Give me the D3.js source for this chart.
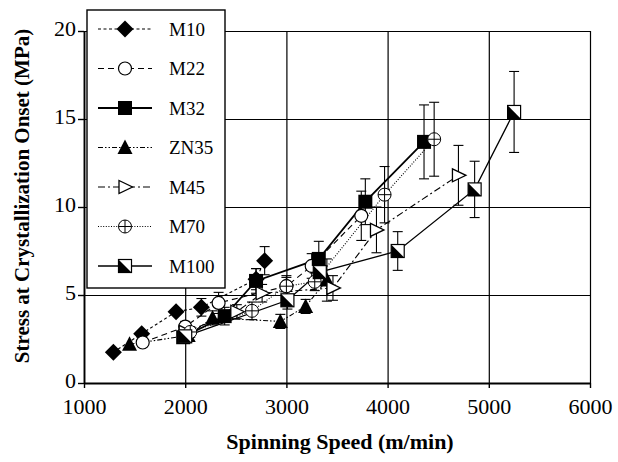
<!DOCTYPE html>
<html>
<head>
<meta charset="utf-8">
<script src="https://cdn.jsdelivr.net/npm/d3@7"></script>
<style>
  body { margin: 0; background: #fff; }
  svg text { font-family: "Liberation Serif", "Times New Roman", serif; fill: #000; }
</style>
</head>
<body>
<div id="chart"></div>
<script>
// Series names as in the legend
const seriesNames = ["M10", "M22", "M32", "ZN35", "M45", "M70", "M100"];

// [spinning speed (m/min), stress (MPa), error (MPa)]
const M10  = [[1290, 1.75, 0], [1570, 2.8, 0], [1910, 4.05, 0], [2160, 4.3, 0.5], [2700, 5.9, 0.6], [2785, 6.95, 0.8]];
const M22  = [[1580, 2.3, 0], [2000, 3.2, 0.3], [2330, 4.55, 0.6], [3000, 5.5, 0.6], [3250, 6.65, 0.7], [3740, 9.5, 1.4]];
const M32  = [[1980, 2.6, 0.3], [2390, 3.8, 0.5], [2700, 5.8, 0.7], [3320, 7.05, 1.0], [3780, 10.3, 1.3], [4360, 13.7, 2.1]];
const ZN35 = [[1450, 2.2, 0], [2030, 2.7, 0.3], [2270, 3.7, 0.4], [2940, 3.5, 0.4], [3190, 4.35, 0.4], [3400, 5.85, 1.2]];
const M45  = [[2000, 2.9, 0.3], [2510, 4.05, 0.4], [2760, 5.1, 0.5], [3460, 5.4, 0.7], [3890, 8.7, 1.3], [4700, 11.8, 1.7]];
const M70  = [[2050, 2.9, 0.3], [2660, 4.1, 0.5], [3000, 5.5, 0.5], [3280, 5.75, 0.5], [3970, 10.7, 1.6], [4460, 13.85, 2.1]];
const M100 = [[2000, 2.65, 0.3], [3010, 4.7, 0.5], [3330, 6.3, 0.6], [4100, 7.5, 1.1], [4860, 11.0, 1.6], [5250, 15.4, 2.3]];

const xTicks = [1000, 2000, 3000, 4000, 5000, 6000];
const yTicks = [0, 5, 10, 15, 20];

(function() {
  const width = 618;
  const height = 462;
  const plot = { left: 84, right: 590, top: 31, bottom: 383 };

  const svg = d3.select("#chart")
    .append("svg")
    .attr("width", width)
    .attr("height", height);

  const x = d3.scaleLinear().domain([1000, 6000]).range([plot.left, plot.right]);
  const y = d3.scaleLinear().domain([0, 20]).range([plot.bottom, plot.top]);

  // Grid
  svg.append("g")
    .attr("transform", `translate(0,${plot.bottom})`)
    .call(d3.axisBottom(x).tickValues(xTicks).tickSize(-(plot.bottom - plot.top)).tickFormat(""))
    .call(g => g.select(".domain").remove())
    .call(g => g.selectAll("line").attr("stroke", "#000").attr("stroke-width", 1.2));

  svg.append("g")
    .attr("transform", `translate(${plot.left},0)`)
    .call(d3.axisLeft(y).tickValues(yTicks).tickSize(-(plot.right - plot.left)).tickFormat(""))
    .call(g => g.select(".domain").remove())
    .call(g => g.selectAll("line").attr("stroke", "#000").attr("stroke-width", 1.2));

  // Axes
  const xAxis = svg.append("g")
    .attr("transform", `translate(0,${plot.bottom})`)
    .call(d3.axisBottom(x).tickValues(xTicks).tickFormat(d3.format("d"))
      .tickSize(5).tickSizeOuter(0).tickPadding(10));
  const yAxis = svg.append("g")
    .attr("transform", `translate(${plot.left},0)`)
    .call(d3.axisLeft(y).tickValues(yTicks).tickSize(6).tickSizeOuter(0).tickPadding(2));

  [xAxis, yAxis].forEach(a => {
    a.select(".domain").attr("stroke", "#000").attr("stroke-width", 1.8);
    a.selectAll(".tick line").attr("stroke", "#000").attr("stroke-width", 1.4);
    a.selectAll("text")
      .attr("font-size", "22px")
      .attr("fill", "#000");
  });
  yAxis.selectAll("text").attr("dy", "0.22em");

  // Axis titles
  svg.append("text")
    .attr("x", 340)
    .attr("y", 449)
    .attr("text-anchor", "middle")
    .attr("font-size", "22px")
    .attr("font-weight", "bold")
    .text("Spinning Speed (m/min)");

  svg.append("text")
    .attr("transform", "rotate(-90)")
    .attr("x", -196)
    .attr("y", 29)
    .attr("text-anchor", "middle")
    .attr("font-size", "21px")
    .attr("font-weight", "bold")
    .text("Stress at Crystallization Onset (MPa)");

  const styles = {
    M10:  { data: M10,  dash: "3,2.5",       width: 1.1, marker: "diamond" },
    M22:  { data: M22,  dash: "6,4",         width: 1.1, marker: "circle" },
    M32:  { data: M32,  dash: null,          width: 1.8, marker: "square" },
    ZN35: { data: ZN35, dash: "5,2,1.5,2,1.5,2", width: 1.1, marker: "triangle" },
    M45:  { data: M45,  dash: "7,3,2,3",     width: 1.1, marker: "rtriangle" },
    M70:  { data: M70,  dash: "1,1.6",       width: 1.1, marker: "crosscircle" },
    M100: { data: M100, dash: null,          width: 1.3, marker: "halfsquare" }
  };

  function drawMarker(g, type, cx, cy) {
    const m = g.append("g").attr("transform", `translate(${cx},${cy})`);
    if (type === "diamond") {
      m.append("path").attr("d", "M0,-8.5L8.5,0L0,8.5L-8.5,0Z").attr("fill", "#000");
    } else if (type === "circle") {
      m.append("circle").attr("r", 6.5).attr("fill", "#fff").attr("stroke", "#000").attr("stroke-width", 1.2);
    } else if (type === "square") {
      m.append("rect").attr("x", -7).attr("y", -7).attr("width", 14).attr("height", 14).attr("fill", "#000");
    } else if (type === "triangle") {
      m.append("path").attr("d", "M0,-8L7.5,6.5L-7.5,6.5Z").attr("fill", "#000");
    } else if (type === "rtriangle") {
      m.append("path").attr("d", "M-6,-6.5L7.5,0L-6,6.5Z").attr("fill", "#fff").attr("stroke", "#000").attr("stroke-width", 1.3);
    } else if (type === "crosscircle") {
      m.append("circle").attr("r", 6.5).attr("fill", "#fff").attr("stroke", "#000").attr("stroke-width", 1);
      m.append("path").attr("d", "M-6.5,0H6.5M0,-6.5V6.5").attr("stroke", "#000").attr("stroke-width", 1);
    } else if (type === "halfsquare") {
      m.append("rect").attr("x", -6.5).attr("y", -6.5).attr("width", 13).attr("height", 13)
        .attr("fill", "#fff").attr("stroke", "#000").attr("stroke-width", 1.2);
      m.append("path").attr("d", "M-6.5,-6.5L6.5,6.5L-6.5,6.5Z").attr("fill", "#000");
    }
  }

  const line = d3.line().x(d => x(d[0])).y(d => y(d[1]));
  const layer = svg.append("g");

  // Lines
  seriesNames.forEach(name => {
    const s = styles[name];
    layer.append("path")
      .datum(s.data)
      .attr("d", line)
      .attr("fill", "none")
      .attr("stroke", "#000")
      .attr("stroke-width", s.width)
      .attr("stroke-dasharray", s.dash);
  });

  // Error bars
  seriesNames.forEach(name => {
    const s = styles[name];
    const eb = layer.append("g").attr("stroke", "#000").attr("stroke-width", 1.1);
    s.data.filter(d => d[2] > 0).forEach(d => {
      const cx = x(d[0]);
      const y1 = y(d[1] + d[2]);
      const y2 = y(d[1] - d[2]);
      eb.append("line").attr("x1", cx).attr("x2", cx).attr("y1", y1).attr("y2", y2);
      eb.append("line").attr("x1", cx - 5).attr("x2", cx + 5).attr("y1", y1).attr("y2", y1);
      eb.append("line").attr("x1", cx - 5).attr("x2", cx + 5).attr("y1", y2).attr("y2", y2);
    });
  });

  // Markers
  seriesNames.forEach(name => {
    const s = styles[name];
    s.data.forEach(d => drawMarker(layer, s.marker, x(d[0]), y(d[1])));
  });

  // Legend
  const legend = svg.append("g");
  legend.append("rect")
    .attr("x", 87).attr("y", 10)
    .attr("width", 138).attr("height", 278)
    .attr("fill", "#fff")
    .attr("stroke", "#000")
    .attr("stroke-width", 1.4);

  seriesNames.forEach((name, i) => {
    const s = styles[name];
    const ly = 29 + i * 39.5;
    legend.append("line")
      .attr("x1", 98).attr("x2", 152)
      .attr("y1", ly).attr("y2", ly)
      .attr("stroke", "#000")
      .attr("stroke-width", s.width)
      .attr("stroke-dasharray", s.dash);
    drawMarker(legend, s.marker, 125, ly);
    legend.append("text")
      .attr("x", 169)
      .attr("y", ly)
      .attr("dy", "0.35em")
      .attr("font-size", "19px")
      .text(name);
  });
})();
</script>
</body>
</html>
